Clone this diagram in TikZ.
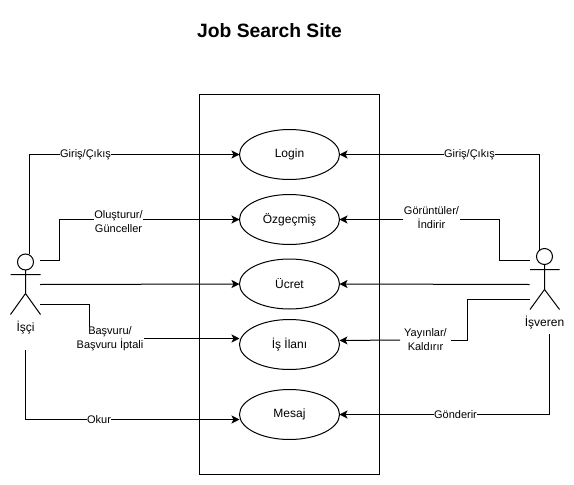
\documentclass[tikz,border=0pt]{standalone}
\usepackage{fontspec}
\setmainfont{Liberation Sans}
\usetikzlibrary{arrows.meta,shapes.geometric}
\tikzset{
  usecase/.style={draw,ellipse,minimum width=100pt,minimum height=50pt,inner sep=0pt,outer sep=0pt,line width=1pt,font=\fontsize{12}{14}\selectfont},
  edgelabel/.style={fill=white,inner sep=0.5pt,align=center,font=\fontsize{11}{14}\selectfont},
  actorlabel/.style={inner sep=0pt,font=\fontsize{12}{14}\selectfont},
  conn/.style={line width=1pt,-{Stealth[length=8pt,width=8pt,inset=2pt]}},
  plainline/.style={line width=1pt},
  boundary/.style={draw,line width=1pt,minimum width=180pt,minimum height=379.5pt,inner sep=0pt,outer sep=0pt}
}
\begin{document}
\begin{tikzpicture}[x=1pt,y=-1pt]
\useasboundingbox (0,0) rectangle (574,485);
\fill[white] (0,0) rectangle (574,485);
\node[font=\bfseries\fontsize{19.3}{22}\selectfont] (title) at (269.5,31) {Job Search Site};
\node[boundary] (sys) at (289.5,284.25) {};
\node[usecase] (login) at (289.5,154.5) {Login};
\node[usecase] (cv) at (289.5,219.5) {Özgeçmiş};
\node[usecase] (pay) at (289.5,284) {Ücret};
\node[usecase] (job) at (289.5,344.5) {İş İlanı};
\node[usecase] (msg) at (289.5,414.5) {Mesaj};
% left actor
\draw[plainline] (25.5,262) circle (8);
\draw[plainline] (25.5,270) -- (25.5,293.5) (10.5,274.5) -- (40.5,274.5) (10.5,314.5) -- (25.5,293.5) -- (40.5,314.5);
\node[actorlabel] (worker) at (25.5,328) {İşçi};
% right actor
\draw[plainline] (544.5,256.5) circle (8);
\draw[plainline] (544.5,264.5) -- (544.5,289.5) (530,269.5) -- (559.5,269.5) (530,309.5) -- (544.5,289.5) -- (559.5,309.5);
\node[actorlabel] (employer) at (544.5,322.5) {İşveren};
% free ends
\coordinate (l1) at (29.5,254);
\coordinate (l2) at (40,260.5);
\coordinate (l3) at (40,284.5);
\coordinate (l4) at (40,304.5);
\coordinate (l5) at (25.5,350);
\coordinate (r1) at (539.5,250);
\coordinate (r2) at (529.5,260.5);
\coordinate (r3) at (529.5,284.5);
\coordinate (r4) at (529.5,299.5);
\coordinate (r5) at (549.5,334);
\coordinate (jl) at (239.5,338.5);
\coordinate (jr) at (339.5,340.5);
\coordinate (ml) at (239.5,419.5);
% labels
\node[edgelabel,inner xsep=0pt] (a) at (85.5,154.5) {Giriş/Çıkış};
\node[edgelabel,inner ysep=0pt] (b) at (118.5,222) {Oluşturur/\\Günceller};
\node[edgelabel,inner ysep=2pt] (d) at (110,339) {Başvuru/\\Başvuru İptali};
\node[edgelabel,inner xsep=0pt] (e) at (99,419.5) {Okur};
\node[edgelabel,inner xsep=0pt] (f) at (469.5,154.5) {Giriş/Çıkış};
\node[edgelabel] (g) at (431.5,218) {Görüntüler/\\İndirir};
\node[edgelabel,inner xsep=4pt] (i) at (425.5,340) {Yayınlar/\\Kaldırır};
\node[edgelabel,inner xsep=0pt] (j) at (455.5,414.5) {Gönderir};
% connectors
\draw[plainline] (l1) |- (a.west);
\draw[conn] (a.east) -- (login.west);
\draw[plainline] (l2) -| (59.5,219.5) -- (b.west |- 0,219.5);
\draw[conn] (b.east |- 0,219.5) -- (cv.west);
\draw[conn] (l3) -- (pay.west);
\draw[plainline] (l4) -| (89.5,326.7);
\draw[conn] (d.east |- 0,338.5) -- (jl);
\draw[plainline] (l5) |- (e.west);
\draw[conn] (e.east) -- (ml);
\draw[plainline] (r1) |- (f.east);
\draw[conn] (f.west) -- (login.east);
\draw[plainline] (r2) -| (499.5,219.5) -- (g.east |- 0,219.5);
\draw[conn] (g.west |- 0,219.5) -- (cv.east);
\draw[conn] (r3) -- (pay.east);
\draw[plainline] (r4) -| (467.5,340.5) -- (i.east |- 0,340.5);
\draw[conn] (i.west |- 0,340) -- (jr);
\draw[plainline] (r5) |- (j.east);
\draw[conn] (j.west) -- (msg.east);
\end{tikzpicture}
\end{document}
